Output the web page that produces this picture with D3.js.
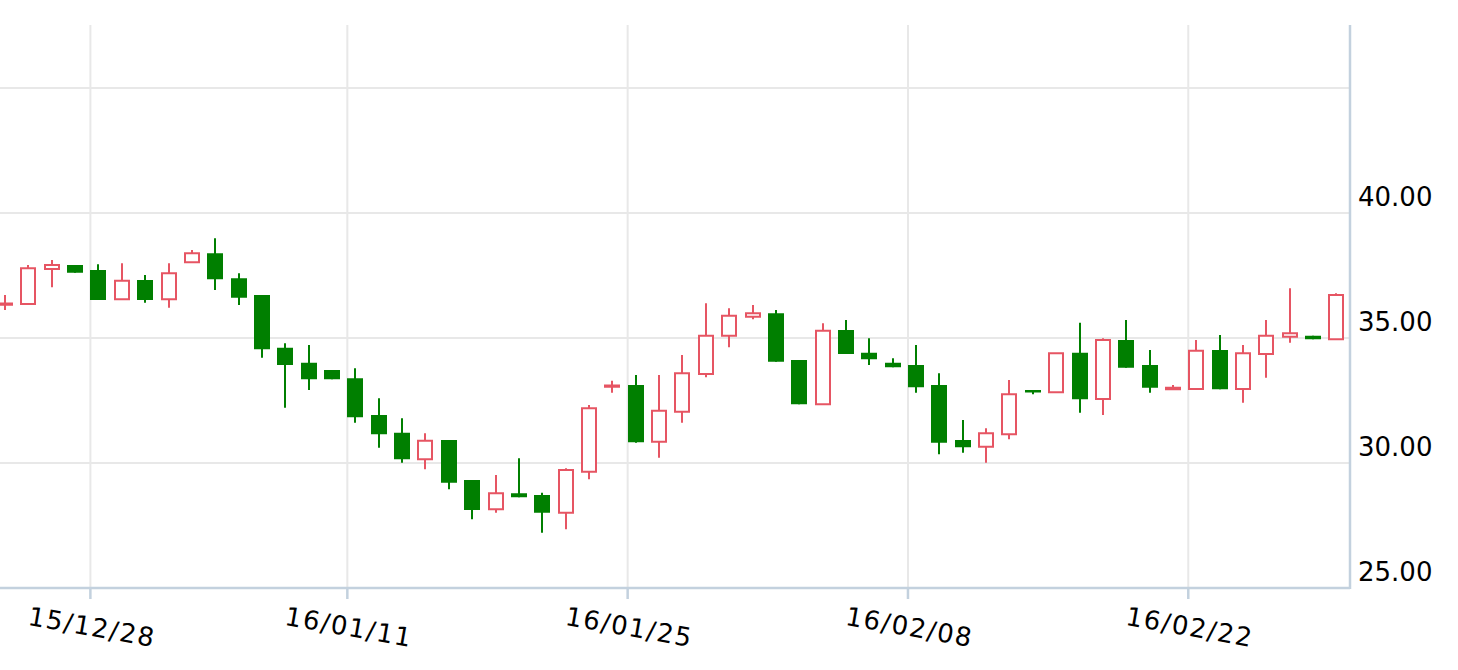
<!DOCTYPE html>
<html>
<head>
<meta charset="utf-8">
<script src="https://cdn.jsdelivr.net/npm/d3@7/dist/d3.min.js"></script>
<style>
  html, body { margin: 0; padding: 0; background: #ffffff; }
  svg { display: block; }
  text { font-family: "DejaVu Sans", Verdana, sans-serif; fill: #000000; }
</style>
</head>
<body>
<svg id="chart" width="1458" height="670"></svg>
<script>
// ---- data ----
const dates = ["15/12/22","15/12/23","15/12/24","15/12/26","15/12/28","15/12/29","15/12/30","15/12/31","16/01/02",
  "16/01/04","16/01/05","16/01/06","16/01/07","16/01/08","16/01/09","16/01/11","16/01/12","16/01/13","16/01/14",
  "16/01/15","16/01/16","16/01/18","16/01/19","16/01/20","16/01/21","16/01/22","16/01/23","16/01/25","16/01/26",
  "16/01/27","16/01/28","16/01/29","16/01/30","16/02/01","16/02/02","16/02/03","16/02/04","16/02/05","16/02/06",
  "16/02/08","16/02/09","16/02/10","16/02/11","16/02/12","16/02/13","16/02/15","16/02/16","16/02/17","16/02/18",
  "16/02/19","16/02/20","16/02/22","16/02/23","16/02/24","16/02/25","16/02/26","16/02/27","16/02/29"];
const openV  = [36.33,36.36,37.76,37.92,37.72,36.55,37.32,36.55,38.03,38.39,37.39,36.72,34.61,34.01,33.72,33.39,31.92,31.21,30.15,
  30.92,29.32,28.15,28.79,28.72,28.01,29.65,33.05,33.12,30.85,32.05,33.56,35.09,35.85,35.99,34.12,32.35,35.32,34.41,34.01,
  33.92,33.12,30.92,30.65,31.15,32.92,32.83,34.41,32.56,34.92,33.92,32.95,32.96,34.52,32.96,34.36,35.05,35.09,34.95];
const highV  = [36.72,37.92,38.12,37.92,37.95,37.99,37.52,37.99,38.52,38.99,37.59,36.72,34.79,34.72,33.72,33.79,32.59,31.79,31.19,
  30.92,29.32,29.52,30.19,28.81,29.79,32.32,33.29,33.52,33.52,34.32,36.39,36.19,36.32,36.12,34.12,35.59,35.72,34.99,34.19,
  34.72,33.59,31.72,31.39,33.32,32.92,34.39,35.61,34.99,35.72,34.52,33.12,34.92,35.12,34.72,35.72,36.99,35.09,36.79];
const lowV   = [36.12,36.36,37.03,37.61,36.52,36.55,36.41,36.21,38.03,36.92,36.32,34.21,32.21,32.92,33.35,31.61,30.61,30.01,29.75,
  28.95,27.75,28.01,28.63,27.21,27.35,29.35,32.81,30.81,30.21,31.61,33.43,34.63,35.75,34.05,32.35,32.35,34.36,33.92,33.83,
  32.81,30.35,30.41,30.01,30.95,32.75,32.83,32.01,31.92,33.81,32.81,32.95,32.96,32.95,32.41,33.41,34.81,34.95,34.95];
const closeV = [36.38,37.79,37.92,37.61,36.52,37.29,36.52,37.59,38.39,37.35,36.61,34.55,33.92,33.35,33.35,31.83,31.15,30.15,30.89,
  29.21,28.12,28.79,28.63,28.01,29.72,32.19,33.10,30.83,32.09,33.59,35.09,35.89,35.99,34.05,32.35,35.29,34.36,34.15,33.83,
  33.03,30.81,30.63,31.19,32.75,32.83,34.39,32.55,34.92,33.81,33.01,33.01,34.49,32.95,34.39,35.09,35.19,34.95,36.72];
const xTickLabels = ["15/12/28","16/01/11","16/01/25","16/02/08","16/02/22"];
const yTickValues = [25, 30, 35, 40];
const yGridValues = [30, 35, 40, 45];

// ---- layout ----
const plot = { left: 0, right: 1350, top: 25, bottom: 588 };
const upColor = "#e65563", downColor = "#007f00";

const svg = d3.select("#chart");

const x = d3.scaleLinear().domain([-0.214, 57.578]).range([plot.left, plot.right]);
const y = d3.scaleLinear().domain([25, 47.52]).range([plot.bottom, plot.top]);

// tick positions: tick falls between the previous session and the labelled session
const tickPos = xTickLabels.map(l => dates.indexOf(l) - 0.345);

// grid
const g = svg.append("g");
g.selectAll("line.vg").data(tickPos).join("line")
  .attr("x1", d => x(d)).attr("x2", d => x(d))
  .attr("y1", plot.top).attr("y2", plot.bottom)
  .attr("stroke", "#e8e8e8").attr("stroke-width", 2);
g.selectAll("line.hg").data(yGridValues).join("line")
  .attr("x1", plot.left).attr("x2", plot.right)
  .attr("y1", d => y(d)).attr("y2", d => y(d))
  .attr("stroke", "#e8e8e8").attr("stroke-width", 2);

// candles
svg.append("clipPath").attr("id", "clip").append("rect")
  .attr("x", plot.left).attr("y", plot.top).attr("width", plot.right - plot.left).attr("height", plot.bottom - plot.top);
const cg = svg.append("g").attr("clip-path", "url(#clip)");
const data = dates.map((d, i) => ({ i, o: openV[i], h: highV[i], l: lowV[i], c: closeV[i] }));
const bw = 16;
const isUp = d => d.c >= d.o;
const bodyH = d => Math.abs(y(d.o) - y(d.c));
const candles = cg.selectAll("g.c").data(data).join("g");
candles.append("line")
  .attr("x1", d => Math.round(x(d.i))).attr("x2", d => Math.round(x(d.i)))
  .attr("y1", d => y(d.h)).attr("y2", d => y(d.l))
  .attr("stroke", d => isUp(d) ? upColor : downColor).attr("stroke-width", 2);
candles.append("rect")
  .attr("x", d => Math.round(x(d.i)) - bw / 2 + (isUp(d) ? 1 : 0))
  .attr("width", d => isUp(d) ? bw - 2 : bw)
  .attr("y", d => y(Math.max(d.o, d.c)))
  .attr("height", d => Math.max(isUp(d) ? 1 : 2.5, bodyH(d)))
  .attr("fill", d => isUp(d) ? (bodyH(d) < 3 ? upColor : "#ffffff") : downColor)
  .attr("stroke", d => isUp(d) ? upColor : "none")
  .attr("stroke-width", 2);

// axes
svg.append("line").attr("x1", plot.left).attr("x2", plot.right)
  .attr("y1", plot.bottom).attr("y2", plot.bottom)
  .attr("stroke", "#c3d1de").attr("stroke-width", 2.5);
svg.append("line").attr("x1", plot.right).attr("x2", plot.right)
  .attr("y1", plot.top).attr("y2", plot.bottom + 1)
  .attr("stroke", "#c3d1de").attr("stroke-width", 2.5);

svg.selectAll("line.xt").data(tickPos).join("line")
  .attr("x1", d => x(d)).attr("x2", d => x(d))
  .attr("y1", plot.bottom).attr("y2", plot.bottom + 11)
  .attr("stroke", "#c3d1de").attr("stroke-width", 2.5);

svg.selectAll("text.xl").data(xTickLabels).join("text")
  .attr("transform", (d, i) => `translate(${x(tickPos[i]) + 1.5},627) rotate(10)`)
  .attr("text-anchor", "middle").attr("dominant-baseline", "central")
  .style("font-size", "26px").style("letter-spacing", "1.5px")
  .text(d => d);

svg.selectAll("text.yl").data(yTickValues).join("text")
  .attr("x", 1358).attr("y", d => y(d) - 7)
  .attr("text-anchor", "start")
  .style("font-size", "26px")
  .text(d => d3.format(".2f")(d));
</script>
</body>
</html>
